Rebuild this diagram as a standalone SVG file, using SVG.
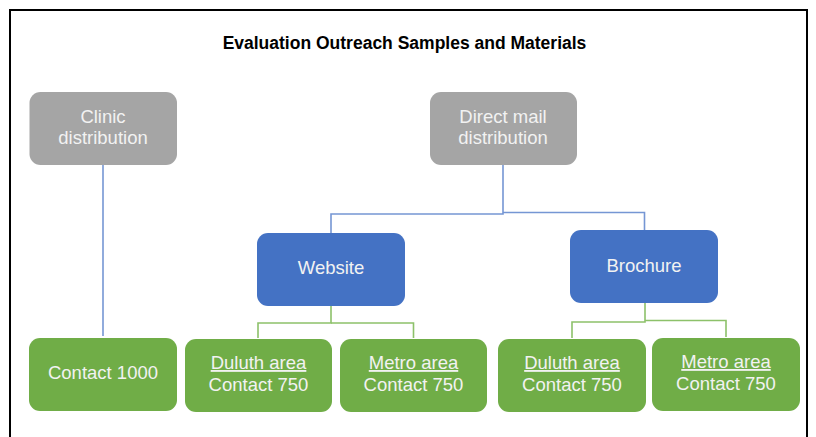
<svg xmlns="http://www.w3.org/2000/svg" width="816" height="437" viewBox="0 0 816 437">
<style>
  .frame{fill:#ffffff;stroke:#000000;stroke-width:2}
  .gray{fill:#A5A5A5}
  .blue{fill:#4472C4}
  .green{fill:#70AD47}
  .lbl{font-family:"Liberation Sans",Arial,sans-serif;font-size:18.5px;fill:#F2F2F2;text-anchor:middle}
  .ul{text-decoration:underline}
  .title{font-family:"Liberation Sans",Arial,sans-serif;font-size:17.5px;font-weight:bold;fill:#000000;text-anchor:middle}
  .cb{fill:none;stroke:#7596D4;stroke-width:1.6}
  .cg{fill:none;stroke:#8DC16A;stroke-width:1.6}
</style>
<rect width="816" height="437" fill="#ffffff"/>
<rect class="frame" x="10" y="10" width="797" height="440"/>
<text class="title" x="404.5" y="49">Evaluation Outreach Samples and Materials</text>

<g id="connectors">
  <path class="cb" d="M103,165 V336"/>
  <path class="cb" d="M503,165 V214 H331 V233"/>
  <path class="cb" d="M503,212.5 H644.5 V230"/>
  <path class="cg" d="M331,306 V323 H258 V338"/>
  <path class="cg" d="M331,323 H413.5 V338"/>
  <path class="cg" d="M645,303 V322 H572 V338"/>
  <path class="cg" d="M645,320.5 H726 V337"/>
</g>

<g id="clinic">
  <rect class="gray" x="29.5" y="92" width="147.5" height="73" rx="11"/>
  <text class="lbl" x="103" y="123">Clinic</text>
  <text class="lbl" x="103" y="144">distribution</text>
</g>
<g id="directmail">
  <rect class="gray" x="430" y="92" width="147" height="73" rx="11"/>
  <text class="lbl" x="503" y="123">Direct mail</text>
  <text class="lbl" x="503" y="144">distribution</text>
</g>
<g id="website">
  <rect class="blue" x="257" y="233" width="148" height="73" rx="11"/>
  <text class="lbl" x="331" y="274">Website</text>
</g>
<g id="brochure">
  <rect class="blue" x="570" y="230" width="148" height="73" rx="11"/>
  <text class="lbl" x="644" y="272">Brochure</text>
</g>
<g id="contact1000">
  <rect class="green" x="29" y="338" width="148" height="73" rx="11"/>
  <text class="lbl" x="103" y="379">Contact 1000</text>
</g>
<g id="duluth1">
  <rect class="green" x="185" y="339" width="147" height="73" rx="11"/>
  <text class="lbl ul" x="258.5" y="369">Duluth area</text>
  <text class="lbl" x="258.5" y="391">Contact 750</text>
</g>
<g id="metro1">
  <rect class="green" x="340" y="339" width="147" height="73" rx="11"/>
  <text class="lbl ul" x="413.5" y="369">Metro area</text>
  <text class="lbl" x="413.5" y="391">Contact 750</text>
</g>
<g id="duluth2">
  <rect class="green" x="498" y="339" width="148" height="73" rx="11"/>
  <text class="lbl ul" x="572" y="369">Duluth area</text>
  <text class="lbl" x="572" y="391">Contact 750</text>
</g>
<g id="metro2">
  <rect class="green" x="652" y="338" width="148" height="73" rx="11"/>
  <text class="lbl ul" x="726" y="368">Metro area</text>
  <text class="lbl" x="726" y="390">Contact 750</text>
</g>
</svg>
